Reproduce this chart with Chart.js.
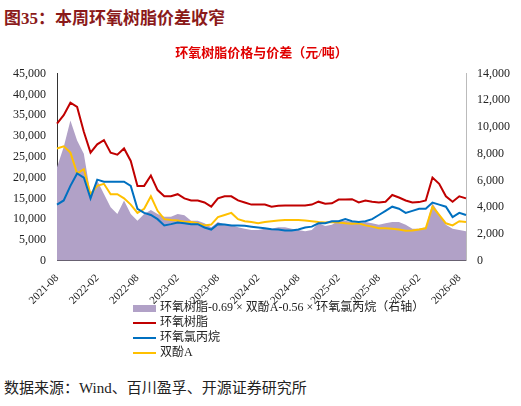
<!DOCTYPE html>
<html>
<head>
<script src="https://cdn.jsdelivr.net/npm/chart.js"></script>
<style>
body { margin:0; width:521px; height:406px; background:#fff; font-family:'Times New Roman','Liberation Serif','DejaVu Serif','Noto Sans CJK SC',serif; position:relative; overflow:hidden; }
#hd { position:absolute; left:4px; top:4px; font-size:17px; font-weight:bold; color:#8b1a1a; }
#wrap { position:absolute; left:0; top:38px; width:521px; height:272px; }
#lg { position:absolute; left:133px; top:300px; font-size:12px; color:#222; }
#lg div { height:15px; line-height:15px; white-space:nowrap; }
#lg span.k { display:inline-block; width:23px; vertical-align:middle; margin-right:4px; }
#ft { position:absolute; left:4px; top:376px; font-size:15px; color:#222; }
</style>
</head>
<body>
<div id="hd">图35：本周环氧树脂价差收窄</div>
<div id="wrap"><canvas id="c"></canvas></div>
<div id="lg">
<div><span class="k" style="height:7px;background:#b1a1c7"></span>环氧树脂-0.69 × 双酚A-0.56 × 环氧氯丙烷（右轴）</div>
<div><span class="k" style="height:2px;background:#c00000"></span>环氧树脂</div>
<div><span class="k" style="height:2px;background:#0070c0"></span>环氧氯丙烷</div>
<div><span class="k" style="height:2px;background:#ffc000"></span>双酚A</div>
</div>
<div id="ft">数据来源：Wind、百川盈孚、开源证券研究所</div>
<script>
const months = [];
for (let y = 2021, m = 8; !(y === 2026 && m === 10); ) {
  months.push(y + '-' + String(m).padStart(2, '0'));
  m++; if (m > 12) { m = 1; y++; }
}
const epoxy = [33000,35000,38000,37000,31000,26000,28000,29000,26000,25500,27000,24000,18000,18000,20500,17000,15500,15500,16000,15000,14500,14500,14000,13000,15000,15500,15500,14500,14000,13500,13500,13500,13000,13200,13300,13300,13300,13300,13500,14200,13700,13800,14700,14700,14800,14000,14500,14200,14000,14200,15800,15200,14500,14000,14100,14500,20000,18500,15500,14200,15500,15000];
const ech = [13500,14500,18000,21000,20000,15000,19500,19000,19000,19000,19000,18000,12500,11500,11000,10000,8500,8800,9200,9000,8800,8800,8000,7500,8800,8700,8500,8500,8400,8200,8000,7800,7600,7500,7300,7300,7500,8000,8200,9000,9000,9500,9500,10000,9500,9300,9500,10000,11000,12000,13000,12500,11500,12000,12500,12500,14000,13500,13000,10500,11500,11000];
const bpa = [27000,27500,26000,21000,22000,16000,18000,18500,16000,16000,15000,13500,11500,12500,15500,12000,10000,9800,9700,9400,9300,9000,8500,8700,10500,11000,11500,10000,9500,9300,9000,9300,9500,9700,9800,9800,9800,9700,9500,9300,9200,9300,9200,9000,8900,9000,8500,8200,7800,7800,7700,7500,7200,7300,7500,7800,13000,11000,9000,8500,9500,9300];
const spread = [7000,8500,10500,9000,8000,5000,6000,5000,4000,3500,4500,3500,3000,3500,3800,3500,3300,3300,3500,3400,3000,3000,2800,2500,2900,2700,2700,2500,2400,2300,2300,2400,2400,2500,2500,2400,2300,2200,2300,2800,2600,2700,3000,3000,2900,2800,2900,2800,2700,2800,2900,2900,2700,2400,2400,2500,4300,3500,2700,2400,2300,2200];
const tickLabels = ['2021-08','2022-02','2022-08','2023-02','2023-08','2024-02','2024-08','2025-02','2025-08','2026-02','2026-08'];

const F = "'Times New Roman','Liberation Serif','DejaVu Serif','Noto Sans CJK SC',serif";
new Chart(document.getElementById('c'), {
  data: {
    labels: months,
    datasets: [
      { type:'line', label:'环氧树脂', data:epoxy, borderColor:'#c00000', borderWidth:2, pointRadius:0, yAxisID:'y', tension:0, order:1 },
      { type:'line', label:'环氧氯丙烷', data:ech, borderColor:'#0070c0', borderWidth:2, pointRadius:0, yAxisID:'y', tension:0, order:2 },
      { type:'line', label:'双酚A', data:bpa, borderColor:'#ffc000', borderWidth:2, pointRadius:0, yAxisID:'y', tension:0, order:3 },
      { type:'line', label:'价差', data:spread, borderWidth:0, backgroundColor:'#b1a1c7', fill:'origin', pointRadius:0, yAxisID:'y1', tension:0, order:4 }
    ]
  },
  options: {
    responsive:true, maintainAspectRatio:false, animation:false,
    layout:{ padding:{ left:10, right:8, top:0, bottom:0 } },
    plugins:{
      legend:{ display:false }, tooltip:{ enabled:false },
      title:{ display:true, text:'环氧树脂价格与价差（元/吨）', color:'#e00000', font:{ family:F, size:13, weight:'bold' }, padding:{ top:8, bottom:12 } }
    },
    scales:{
      x:{ grid:{ display:false, drawTicks:true }, border:{ color:'#333' },
          ticks:{ autoSkip:false, maxRotation:45, minRotation:45, color:'#222', font:{ family:F, size:11 },
                  callback:function(v){ const l = this.getLabelForValue(v); return tickLabels.includes(l) ? l : null; } } },
      y:{ position:'left', min:0, max:45000, grid:{ display:false }, border:{ color:'#333' },
          ticks:{ stepSize:5000, color:'#222', font:{ family:F, size:12 }, callback:v => v.toLocaleString('en-US') } },
      y1:{ position:'right', min:0, max:14000, grid:{ display:false }, border:{ color:'#bbb' },
          ticks:{ stepSize:2000, color:'#222', font:{ family:F, size:12 }, callback:v => v.toLocaleString('en-US') } }
    }
  }
});
</script>
</body>
</html>
